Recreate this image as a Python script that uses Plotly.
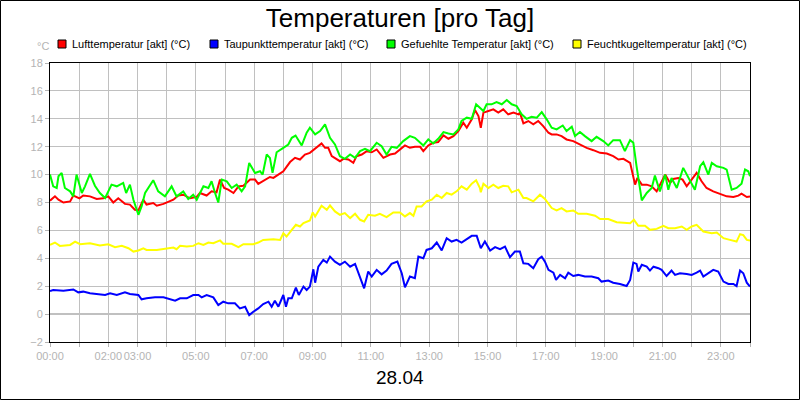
import plotly.graph_objects as go

# ---------------- data (hours of day, °C) ----------------
t_luft = [0, 0.17, 0.29, 0.46, 0.69, 0.8, 1.01, 1.14, 1.37, 1.6, 1.83, 2.0, 2.17, 2.34, 2.57, 2.74, 2.91, 3.03,
          3.2, 3.31, 3.54, 3.66, 3.89, 4.11, 4.23, 4.4, 4.57, 4.8, 5.03, 5.14, 5.37, 5.54, 5.71, 5.83, 5.97, 6.11,
          6.29, 6.46, 6.63, 6.86, 7.03, 7.14, 7.31, 7.54, 7.66, 7.83, 8.0, 8.23, 8.4, 8.57, 8.74, 8.91, 9.09,
          9.31, 9.43, 9.54, 9.66, 9.83, 9.94, 10.06, 10.23, 10.4, 10.51, 10.69, 10.86, 11.03, 11.2, 11.43, 11.66,
          11.83, 12.0, 12.17, 12.34, 12.51, 12.69, 12.8, 12.97, 13.14, 13.31, 13.49, 13.66, 13.83, 14.0, 14.17,
          14.29, 14.46, 14.57, 14.69, 14.77, 14.86, 15.03, 15.2, 15.37, 15.54, 15.71, 15.89, 16.06, 16.11, 16.23,
          16.4, 16.57, 16.74, 16.91, 17.09, 17.2, 17.37, 17.54, 17.71, 17.94, 18.17, 18.4, 18.63, 18.86, 19.09,
          19.31, 19.49, 19.66, 19.89, 20.06, 20.14, 20.29, 20.46, 20.63, 20.8, 20.91, 21.09, 21.26, 21.37, 21.54,
          21.69, 21.83, 22.0, 22.17, 22.34, 22.51, 22.74, 22.97, 23.2, 23.43, 23.6, 23.71, 23.89, 24.0]
v_luft = [8.13, 8.44, 8.2, 8.0, 8.08, 8.5, 8.3, 8.5, 8.44, 8.25, 8.3, 8.44, 8.0, 8.3, 7.9, 7.85, 7.48, 7.43,
          8.2, 7.85, 7.96, 7.77, 7.9, 8.08, 8.2, 8.5, 8.56, 8.3, 8.4, 8.68, 8.5, 8.8, 8.73, 9.64, 9.04, 8.92,
          8.68, 9.16, 9.2, 9.64, 9.64, 9.33, 9.52, 9.83, 9.76, 10.0, 10.24, 10.9, 11.2, 11.08, 11.44, 11.56, 11.85,
          12.23, 11.92, 11.92, 11.32, 11.08, 10.96, 11.13, 11.08, 10.84, 11.32, 11.44, 11.68, 11.6, 11.8, 11.2, 11.44,
          11.51, 11.8, 12.09, 11.92, 11.99, 11.99, 11.68, 12.09, 12.28, 12.33, 12.81, 12.57, 12.76, 13.12, 13.72,
          13.36, 13.96, 14.63, 14.2, 13.36, 14.44, 14.56, 14.68, 14.44, 14.68, 14.32, 14.44, 14.32, 14.44, 13.67,
          13.84, 13.6, 13.84, 13.48, 13.0, 12.88, 12.88, 12.76, 12.52, 12.4, 12.16, 11.92, 11.75, 11.56, 11.51,
          11.32, 11.08, 11.13, 10.84, 9.28, 9.76, 9.28, 9.28, 9.16, 8.8, 9.28, 10.0, 9.4, 9.69, 9.76,
          9.64, 9.16, 9.64, 10.12, 9.52, 9.04, 8.8, 8.63, 8.44, 8.39, 8.49, 8.63, 8.39, 8.44]

t_tau = [0, 0.11, 0.46, 0.8, 0.97, 1.14, 1.37, 1.71, 1.89, 2.06, 2.29, 2.57, 2.74, 3.03, 3.14, 3.31, 3.6, 3.89,
         4.11, 4.29, 4.46, 4.69, 4.91, 5.09, 5.2, 5.37, 5.6, 5.77, 5.94, 6.11, 6.34, 6.51, 6.69, 6.83, 6.97, 7.14,
         7.31, 7.49, 7.6, 7.71, 7.83, 8.0, 8.09, 8.17, 8.29, 8.43, 8.53, 8.69, 8.8, 8.91, 9.03, 9.09, 9.2, 9.37,
         9.49, 9.6, 9.77, 9.94, 10.11, 10.29, 10.46, 10.63, 10.77, 10.91, 11.03, 11.2, 11.37, 11.54, 11.71, 11.91,
         12.06, 12.17, 12.34, 12.51, 12.63, 12.8, 12.91, 13.09, 13.26, 13.43, 13.6, 13.77, 13.94, 14.11, 14.29,
         14.46, 14.63, 14.77, 14.91, 15.09, 15.26, 15.43, 15.6, 15.77, 15.94, 16.11, 16.23, 16.4, 16.57, 16.74,
         16.86, 16.97, 17.09, 17.26, 17.35, 17.49, 17.66, 17.77, 17.94, 18.11, 18.34, 18.57, 18.8, 18.91, 19.14,
         19.31, 19.54, 19.77, 19.89, 20.0, 20.11, 20.17, 20.29, 20.46, 20.57, 20.69, 20.86, 20.97, 21.14, 21.31,
         21.43, 21.6, 21.83, 22.0, 22.17, 22.29, 22.4, 22.57, 22.74, 22.91, 23.09, 23.26, 23.43, 23.54, 23.66,
         23.77, 23.89, 24.0]
v_tau = [1.65, 1.73, 1.68, 1.77, 1.56, 1.61, 1.49, 1.44, 1.37, 1.49, 1.37, 1.56, 1.44, 1.37, 1.06, 1.13, 1.2, 1.2,
         1.08, 0.96, 1.13, 1.13, 1.37, 1.37, 1.2, 1.37, 1.2, 0.65, 0.89, 0.77, 0.77, 0.41, 0.53, -0.07, 0.17, 0.41,
         0.72, 0.89, 0.53, 0.96, 0.53, 1.37, 0.53, 1.13, 1.13, 1.89, 1.37, 1.97, 1.73, 1.97, 3.21, 2.25, 3.4, 3.88,
         3.69, 4.12, 3.76, 3.53, 3.76, 3.4, 3.6, 2.69, 1.85, 3.05, 2.69, 3.17, 2.85, 3.12, 3.6, 3.76,
         2.93, 1.92, 2.69, 2.57, 4.12, 4.0, 4.6, 4.72, 5.13, 4.56, 5.44, 5.2, 5.32, 5.13, 5.37,
         5.61, 5.61, 4.72, 5.2, 4.56, 4.8, 4.65, 4.84, 4.08, 4.48, 4.48, 3.64, 3.6, 3.29, 3.93,
         4.12, 3.76, 3.17, 2.97, 2.45, 2.81, 2.57, 2.97, 2.73, 2.81, 2.69, 2.69, 2.57, 2.33, 2.4,
         2.25, 2.16, 2.01, 2.45, 3.69, 3.6, 3.05, 3.53, 3.4, 3.12, 3.4, 3.29, 3.17, 2.73, 3.12,
         2.81, 2.93, 2.88, 2.81, 2.97, 3.12, 2.69, 2.93, 3.17, 3.05, 2.33, 2.16, 2.16, 2.01, 3.12,
         2.93, 2.25, 1.97]

t_gef = [0, 0.11, 0.23, 0.29, 0.4, 0.51, 0.69, 0.8, 0.91, 1.09, 1.2, 1.37, 1.54, 1.71, 1.89, 2.11, 2.29, 2.51,
         2.61, 2.74, 2.86, 3.03, 3.14, 3.26, 3.54, 3.71, 3.94, 4.17, 4.34, 4.57, 4.74, 4.91, 5.03, 5.26, 5.43,
         5.54, 5.66, 5.77, 5.89, 6.06, 6.23, 6.4, 6.57, 6.69, 6.83, 7.03, 7.2, 7.29, 7.43, 7.54, 7.63, 7.77, 8.0,
         8.17, 8.29, 8.42, 8.63, 8.8, 8.91, 9.09, 9.26, 9.43, 9.6, 9.77, 9.94, 10.11, 10.29, 10.46, 10.63, 10.8,
         10.97, 11.2, 11.37, 11.54, 11.71, 11.89, 12.11, 12.34, 12.51, 12.69, 12.8, 12.97, 13.14, 13.31, 13.49,
         13.66, 13.83, 14.0, 14.11, 14.29, 14.46, 14.61, 14.74, 14.86, 14.97, 15.14, 15.31, 15.49, 15.66, 15.83,
         16.0, 16.17, 16.34, 16.51, 16.69, 16.86, 17.03, 17.2, 17.37, 17.58, 17.71, 17.89, 18.0, 18.17, 18.34,
         18.57, 18.74, 18.97, 19.14, 19.31, 19.54, 19.71, 19.89, 20.0, 20.11, 20.29, 20.46, 20.63, 20.74, 20.91,
         21.09, 21.2, 21.31, 21.49, 21.71, 21.89, 22.11, 22.29, 22.4, 22.57, 22.69, 22.86, 23.09, 23.2, 23.37,
         23.54, 23.71, 23.83, 23.94, 24.0]
v_gef = [10.0, 9.16, 9.04, 9.88, 10.12, 9.04, 8.8, 8.44, 10.0, 8.68, 9.16, 10.05, 9.2, 8.68, 8.32, 9.28, 9.16, 9.4,
         8.68, 9.28, 8.2, 7.12, 7.72, 8.68, 9.6, 8.8, 8.44, 9.16, 8.44, 8.8, 8.25, 8.56, 8.2, 9.16, 9.04,
         9.52, 8.68, 8.0, 9.64, 9.52, 9.04, 9.28, 8.8, 9.16, 10.84, 10.12, 10.24, 10.0, 11.44, 11.2, 10.12, 11.6, 11.92,
         12.16, 12.64, 12.8, 12.09, 13.0, 13.36, 12.88, 13.12, 13.6, 12.64, 12.16, 11.32, 11.13, 11.44, 11.2, 11.68, 11.85,
         11.68, 12.28, 12.04, 11.44, 11.99, 11.92, 12.4, 12.76, 12.64, 12.28, 12.09, 12.52, 12.23, 12.57, 13.05,
         12.95, 12.88, 13.24, 13.84, 14.08, 14.0, 15.04, 14.8, 14.56, 15.04, 15.04, 15.2, 15.04, 15.35, 15.04,
         14.92, 14.32, 14.0, 14.15, 14.08, 14.48, 13.96, 13.36, 13.24, 13.52, 13.12, 13.43, 12.76, 13.05, 12.76,
         12.4, 12.71, 12.4, 12.09, 12.47, 12.47, 11.68, 12.47, 12.28, 10.6, 8.15, 8.68, 9.04, 9.93, 8.8,
         10.0, 8.92, 9.76, 9.04, 10.48, 9.76, 8.92, 10.6, 10.89, 10.0, 10.84, 10.6, 10.48, 10.36, 8.92,
         9.04, 9.35, 10.36, 10.24, 9.88]

t_feucht = [0, 0.17, 0.34, 0.69, 0.86, 1.03, 1.37, 1.71, 2.0, 2.23, 2.46, 2.69, 2.86, 3.03, 3.2, 3.31, 3.66, 4.0,
            4.23, 4.34, 4.46, 4.69, 4.91, 5.09, 5.26, 5.43, 5.6, 5.83, 5.94, 6.23, 6.46, 6.63, 6.97, 7.14, 7.31,
            7.66, 7.89, 8.0, 8.11, 8.29, 8.43, 8.57, 8.69, 8.91, 9.01, 9.09, 9.31, 9.49, 9.6, 9.77, 9.94, 10.11,
            10.29, 10.46, 10.63, 10.77, 10.91, 11.14, 11.31, 11.54, 11.77, 12.0, 12.17, 12.34, 12.46, 12.57, 12.74,
            12.91, 13.09, 13.26, 13.43, 13.6, 13.77, 13.94, 14.11, 14.29, 14.46, 14.61, 14.74, 14.77, 14.86, 15.03,
            15.2, 15.37, 15.54, 15.71, 15.83, 16.06, 16.23, 16.34, 16.57, 16.8, 16.97, 17.2, 17.37, 17.54, 17.71,
            17.94, 18.11, 18.4, 18.69, 18.86, 19.14, 19.43, 19.71, 19.89, 20.02, 20.17, 20.4, 20.57, 20.8, 21.03,
            21.2, 21.43, 21.66, 21.83, 22.0, 22.17, 22.4, 22.69, 22.86, 23.09, 23.31, 23.54, 23.66, 23.77, 23.89,
            24.0]
v_feucht = [4.96, 5.13, 4.89, 4.96, 5.2, 5.01, 5.08, 4.92, 5.01, 4.8, 4.89, 4.72, 4.48, 4.56, 4.72, 4.6, 4.6, 4.68,
            4.77, 4.65, 4.89, 4.84, 4.89, 5.08, 4.96, 5.13, 5.08, 5.28, 5.04, 5.04, 4.8, 5.01, 5.01, 5.13, 5.32,
            5.37, 5.32, 5.8, 5.56, 6.04, 6.4, 6.28, 6.52, 6.71, 7.29, 7.0, 7.77, 7.48, 7.79, 7.36, 7.12, 7.24,
            6.88, 7.19, 6.76, 6.64, 7.12, 7.05, 7.19, 6.95, 7.29, 7.29, 7.0, 7.24, 7.05, 7.72, 7.72,
            8.08, 8.2, 8.56, 8.32, 8.68, 8.56, 8.8, 9.16, 8.92, 9.35, 9.59, 9.04, 8.73, 9.35, 9.04,
            9.28, 9.04, 9.2, 9.16, 8.73, 8.92, 8.32, 8.32, 8.08, 8.56, 8.25, 7.6, 7.43, 7.6, 7.36,
            7.43, 7.19, 7.19, 7.05, 6.81, 6.81, 6.59, 6.52, 6.52, 6.76, 6.33, 6.33, 6.04, 6.11, 6.33,
            6.16, 6.16, 6.28, 6.04, 6.28, 6.4, 5.92, 5.8, 5.85, 5.44, 5.32, 5.2, 5.73, 5.66, 5.32,
            5.28]

series_names = ["Lufttemperatur [akt] (°C)", "Taupunkttemperatur [akt] (°C)",
                "Gefuehlte Temperatur [akt] (°C)", "Feuchtkugeltemperatur [akt] (°C)"]
series_colors = ["#ff0000", "#0000ff", "#00ff00", "#ffff00"]

tick_hours = list(range(25))
tick_label_map = {0: "00:00", 2: "02:00", 3: "03:00", 5: "05:00", 7: "07:00", 9: "09:00", 11: "11:00",
                  13: "13:00", 15: "15:00", 17: "17:00", 19: "19:00", 21: "21:00", 23: "23:00"}
tick_text = [tick_label_map.get(h, "") for h in tick_hours]

title_text = "Temperaturen [pro Tag]"
date_text = "28.04"
unit_text = "°C"

# ---------------- layout helpers (pixel -> paper) ----------------
W, H = 800, 400
ML, MR, MT, MB = 50, 50, 63, 58
PW, PH = W - ML - MR, H - MT - MB


def px(x):
    return (x - ML) / PW


def py(y):
    return (H - MB - y) / PH


FONT = "Liberation Sans, Arial, sans-serif"
GREY = "#b4b4b4"
GRID = "#c0c0c0"

fig = go.Figure()
all_t = [t_luft, t_tau, t_gef, t_feucht]
all_v = [v_luft, v_tau, v_gef, v_feucht]
for t, v, c, n in zip(all_t, all_v, series_colors, series_names):
    fig.add_trace(go.Scatter(x=t, y=v, mode="lines", name=n, showlegend=False,
                             line=dict(color=c, width=2), hoverinfo="x+y+name"))

shapes = []
annotations = []
# custom legend: squares + text
leg_sq_x = [58, 210, 387, 573]
for xs, c, n in zip(leg_sq_x, series_colors, series_names):
    shapes.append(dict(type="rect", xref="paper", yref="paper",
                       x0=px(xs), x1=px(xs + 8), y0=py(48), y1=py(40),
                       fillcolor=c, line=dict(color="black", width=1), layer="above"))
    annotations.append(dict(text=n, xref="paper", yref="paper", x=px(xs + 12), y=py(44),
                            xanchor="left", yanchor="middle", showarrow=False,
                            font=dict(family=FONT, size=11, color="black")))
# outer border
shapes.append(dict(type="rect", xref="paper", yref="paper",
                   x0=px(0.5), x1=px(W - 0.5), y0=py(H - 0.5), y1=py(0.5),
                   line=dict(color="black", width=1), fillcolor="rgba(0,0,0,0)", layer="above"))
annotations.append(dict(text=unit_text, xref="paper", yref="paper", x=px(43), y=py(46),
                        xanchor="center", yanchor="middle", showarrow=False,
                        font=dict(family=FONT, size=11, color=GREY)))
annotations.append(dict(text=date_text, xref="paper", yref="paper", x=px(400.5), y=py(377),
                        xanchor="center", yanchor="middle", showarrow=False,
                        font=dict(family=FONT, size=19, color="black")))

fig.update_layout(
    width=W, height=H, autosize=False,
    margin=dict(l=ML, r=MR, t=MT, b=MB, pad=0),
    paper_bgcolor="white", plot_bgcolor="white",
    title=dict(text=title_text, x=0.5, xanchor="center", xref="paper",
               y=(H - 18) / H, yanchor="middle", yref="container",
               font=dict(family=FONT, size=26, color="black")),
    showlegend=False,
    shapes=shapes, annotations=annotations,
    xaxis=dict(range=[0, 24], tickmode="array", tickvals=tick_hours, ticktext=tick_text,
               tickangle=0,
               ticks="outside", ticklen=4, tickcolor=GREY, tickwidth=1,
               showgrid=True, gridcolor=GRID, gridwidth=1,
               showline=True, linecolor="black", linewidth=1, mirror=True, zeroline=False,
               tickfont=dict(family=FONT, size=11, color=GREY), fixedrange=True),
    yaxis=dict(range=[-2, 18], tick0=0, dtick=2,
               ticks="outside", ticklen=4, tickcolor=GREY, tickwidth=1,
               showgrid=True, gridcolor=GRID, gridwidth=1,
               showline=True, linecolor="black", linewidth=1, mirror=True,
               zeroline=True, zerolinecolor=GRID, zerolinewidth=2,
               tickfont=dict(family=FONT, size=11, color=GREY), fixedrange=True),
)

fig.write_html("out.html")
